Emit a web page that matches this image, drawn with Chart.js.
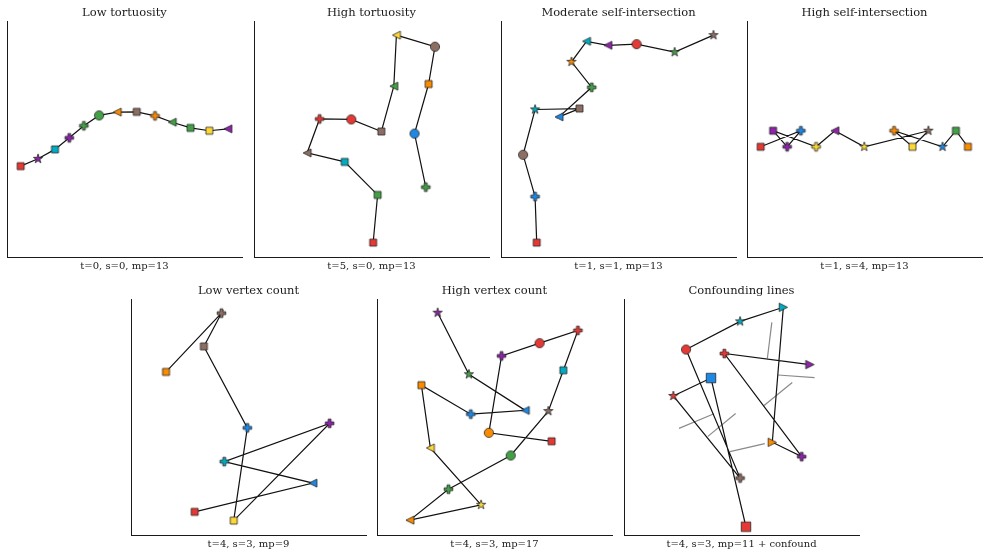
<!DOCTYPE html>
<html><head><meta charset="utf-8">
<script src="https://cdn.jsdelivr.net/npm/chart.js@4.4.0/dist/chart.umd.min.js"></script>
<style>
html,body{margin:0;padding:0;background:#fff;}
body{width:989px;height:555px;position:relative;overflow:hidden;font-family:'DejaVu Serif',serif;}
canvas.pc{position:absolute;}
.ttl,.xl{position:absolute;text-align:center;white-space:nowrap;color:#1a1a1a;height:20px;line-height:20px;width:300px;}
.ttl{font-size:11.5px;}
.xl{font-size:10px;}
</style></head><body>
<script>
// ---------- DATA (axes span 0..100 in both directions) ----------
const titles = ["Low tortuosity","High tortuosity","Moderate self-intersection","High self-intersection",
                "Low vertex count","High vertex count","Confounding lines"];
const xlabels = ["t=0, s=0, mp=13","t=5, s=0, mp=13","t=1, s=1, mp=13","t=1, s=4, mp=13",
                 "t=4, s=3, mp=9","t=4, s=3, mp=17","t=4, s=3, mp=11 + confound"];

const p1X = [5.8,13.2,20.4,26.5,32.7,39.2,46.9,55.2,63.0,70.3,78.1,86.1,94.0];
const p1Y = [38.5,41.6,45.6,50.5,55.6,60.0,61.4,61.5,59.8,57.1,54.7,53.5,54.3];
const p1M = ['s','*','s','P','P','o','<','s','P','<','s','s','<'];
const p1C = ['R','P','C','P','G','G','O','N','O','G','G','Y','P'];

const p2X = [50.7,52.6,38.6,22.6,27.9,41.4,54.2,59.5,60.6,77.0,74.3,68.3,73.1];
const p2Y = [6.1,26.3,40.3,44.1,58.5,58.3,53.2,72.4,94.0,89.1,73.3,52.3,29.6];
const p2M = ['s','s','s','<','P','o','s','<','<','o','s','o','P'];
const p2C = ['R','G','C','N','R','R','N','G','Y','N','O','B','G'];

const p3X = [15.2,14.5,9.4,14.5,33.4,24.7,38.6,30.0,36.4,45.5,57.7,73.9,90.4];
const p3Y = [6.1,25.6,43.3,62.5,62.9,59.4,71.9,82.7,91.4,89.7,90.2,86.8,94.0];
const p3M = ['s','P','o','*','s','<','P','*','<','<','o','*','*'];
const p3C = ['R','B','N','C','N','B','G','O','C','P','R','G','N'];

const p4X = [5.8,22.9,17.1,11.1,29.4,37.4,49.9,77.2,70.4,62.6,83.2,88.9,94.0];
const p4Y = [46.7,53.5,46.7,53.5,46.7,53.5,46.7,53.5,46.7,53.5,46.7,53.5,46.7];
const p4M = ['s','P','P','s','P','<','*','*','s','P','*','s','s'];
const p4C = ['R','B','P','P','Y','P','Y','N','Y','O','B','G','O'];

const p5X = [14.9,38.5,31.0,49.5,43.7,84.5,39.7,77.4,27.1];
const p5Y = [69.1,94.0,79.9,45.4,6.1,47.3,31.1,22.0,9.8];
const p5M = ['s','P','s','P','s','P','P','<','s'];
const p5C = ['O','N','N','B','Y','P','C','B','R'];

const p6X = [25.8,39.1,63.1,39.9,18.9,22.7,44.3,14.0,30.4,56.9,72.9,79.3,85.5,69.2,53.0,47.6,74.3];
const p6Y = [94.2,68.1,52.8,51.2,63.5,36.9,12.8,6.3,19.4,33.7,52.5,69.8,86.7,81.3,75.9,43.3,39.7];
const p6M = ['*','*','<','P','s','<','*','<','P','o','*','s','P','o','P','o','s'];
const p6C = ['P','G','B','B','O','Y','Y','O','G','G','N','C','R','R','P','O','R'];

const p7X = [51.9,37.0,21.0,49.4,26.4,49.4,67.8,63.1,75.6,42.7,79.1];
const p7Y = [3.5,66.5,58.9,24.1,78.6,90.5,96.5,39.3,33.2,76.9,72.2];
const p7M = ['s','s','*','P','o','*','>','>','P','P','>'];
const p7C = ['R','B','R','N','R','C','C','O','P','R','P'];

// confounding segments: [x1, y1, x2, y2]
const confoundSegs = [
  [62.9,90.1,61.0,74.8],
  [65.5,67.8,81.1,66.7],
  [71.6,64.6,59.6,54.9],
  [23.4,45.2,38.3,51.4],
  [47.5,51.5,35.7,41.8],
  [45.1,35.3,59.9,38.7]
];

// ---------- STYLE ----------
const palette = {R:'#e53935',O:'#fb8c00',Y:'#fdd835',G:'#43a047',B:'#1e88e5',P:'#8e24aa',N:'#8d6e63',C:'#00acc1'};
const baseSizes = {o:9.2,s:7,P:8.6,'*':9.8,'<':8,'>':8.4};

function makeMarker(shape,color,size){
  const pad=2, s=Math.ceil(size)+pad*2;
  const c=document.createElement('canvas'); c.width=s; c.height=s;
  const g=c.getContext('2d'); const cx=s/2, cy=s/2, r=size/2;
  g.beginPath();
  if(shape==='o'){ g.arc(cx,cy,r,0,Math.PI*2); }
  else if(shape==='s'){ g.rect(cx-r,cy-r,2*r,2*r); }
  else if(shape==='P'){
    const a=r/3;
    const pts=[[-a,-r],[a,-r],[a,-a],[r,-a],[r,a],[a,a],[a,r],[-a,r],[-a,a],[-r,a],[-r,-a],[-a,-a]];
    pts.forEach((p,i)=>{ if(i===0) g.moveTo(cx+p[0],cy+p[1]); else g.lineTo(cx+p[0],cy+p[1]); });
    g.closePath();
  } else if(shape==='*'){
    const ri=r*0.381966;
    for(let i=0;i<10;i++){
      const ang=-Math.PI/2+i*Math.PI/5, rr=(i%2===0)?r:ri;
      const x=cx+rr*Math.cos(ang), y=cy+rr*Math.sin(ang);
      if(i===0) g.moveTo(x,y); else g.lineTo(x,y);
    }
    g.closePath();
  } else if(shape==='<'){
    g.moveTo(cx-r,cy); g.lineTo(cx+r,cy-r); g.lineTo(cx+r,cy+r); g.closePath();
  } else if(shape==='>'){
    g.moveTo(cx+r,cy); g.lineTo(cx-r,cy-r); g.lineTo(cx-r,cy+r); g.closePath();
  }
  g.fillStyle=color; g.fill();
  g.lineWidth=0.8; g.strokeStyle='#262626'; g.stroke();
  return c;
}

const panels = [
  {X:p1X,Y:p1Y,M:p1M,C:p1C,left:7,top:21},
  {X:p2X,Y:p2Y,M:p2M,C:p2C,left:254,top:21},
  {X:p3X,Y:p3Y,M:p3M,C:p3C,left:501,top:21},
  {X:p4X,Y:p4Y,M:p4M,C:p4C,left:747,top:21},
  {X:p5X,Y:p5Y,M:p5M,C:p5C,left:131,top:299},
  {X:p6X,Y:p6Y,M:p6M,C:p6C,left:377,top:299},
  {X:p7X,Y:p7Y,M:p7M,C:p7C,left:624,top:299,squareSize:9.5,confound:confoundSegs}
];
const AW=235, AH=236, PAD=10;

panels.forEach((p,idx)=>{
  const cv=document.createElement('canvas');
  cv.className='pc';
  cv.width=AW+2*PAD; cv.height=AH+2*PAD;
  cv.style.width=(AW+2*PAD)+'px'; cv.style.height=(AH+2*PAD)+'px';
  cv.style.left=(p.left-PAD)+'px'; cv.style.top=(p.top-PAD)+'px';
  document.body.appendChild(cv);

  const t=document.createElement('div'); t.className='ttl'; t.textContent=titles[idx];
  t.style.left=(p.left+AW/2-150)+'px'; t.style.top=(p.top-19)+'px';
  document.body.appendChild(t);
  const xl=document.createElement('div'); xl.className='xl'; xl.textContent=xlabels[idx];
  xl.style.left=(p.left+AW/2-150)+'px'; xl.style.top=(p.top+AH-1)+'px';
  document.body.appendChild(xl);

  const styles=p.M.map((m,i)=>{
    let sz=baseSizes[m]; if(m==='s' && p.squareSize) sz=p.squareSize;
    return makeMarker(m,palette[p.C[i]],sz);
  });
  const datasets=[];
  if(p.confound){
    p.confound.forEach(s=>{
      datasets.push({data:[{x:s[0],y:s[1]},{x:s[2],y:s[3]}],showLine:true,borderColor:'#8a8a8a',borderWidth:1.2,
        pointRadius:0,pointHoverRadius:0,clip:false,order:2});
    });
  }
  datasets.push({
    data:p.X.map((x,i)=>({x:x,y:p.Y[i]})),
    showLine:true,borderColor:'#111111',borderWidth:1.2,tension:0,
    pointStyle:styles,pointRadius:4,pointHoverRadius:4,clip:false,order:1
  });
  new Chart(cv,{
    type:'scatter',
    data:{datasets:datasets},
    options:{
      responsive:false,animation:false,devicePixelRatio:1,events:[],
      layout:{padding:PAD},
      plugins:{legend:{display:false},tooltip:{enabled:false},title:{display:false}},
      scales:{
        x:{type:'linear',min:0,max:100,ticks:{display:false},grid:{display:false,drawTicks:false},
           border:{display:true,color:'#1a1a1a',width:1}},
        y:{type:'linear',min:0,max:100,ticks:{display:false},grid:{display:false,drawTicks:false},
           border:{display:true,color:'#1a1a1a',width:1}}
      }
    }
  });
});
</script>
</body></html>
